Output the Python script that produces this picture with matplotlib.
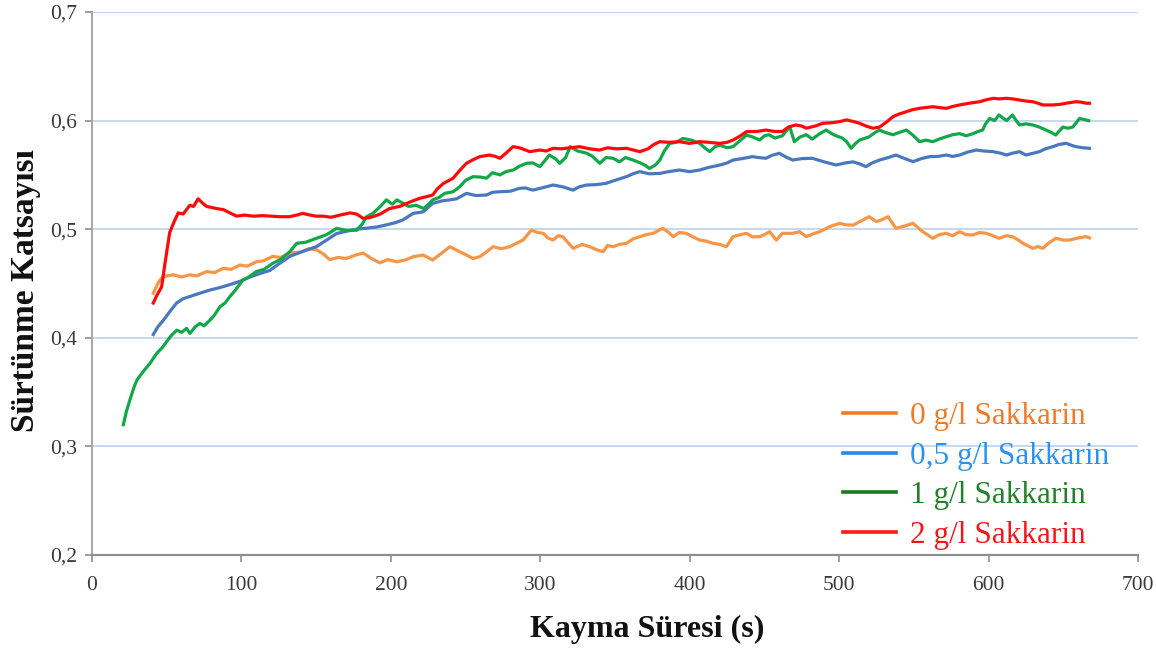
import matplotlib
matplotlib.use("Agg")
import matplotlib.pyplot as plt
from matplotlib.lines import Line2D
import numpy as np

# Sliding time (s) and friction coefficient readings for each saccharin level
t_0 = [41, 44, 46.6, 50, 54.4, 60, 65.5, 70, 76.7, 82, 87.8, 93, 99, 104, 110, 115, 121, 126,
       132.4, 140, 145, 150.3, 155, 159, 165, 170, 176, 181.5, 187, 192.6, 198, 204, 210.5,
       215, 221.6, 228, 234, 239.5, 245, 250.6, 255, 259.5, 264, 268.4, 274, 279.6, 284,
       288.5, 294, 298, 302, 305, 308.6, 312, 315, 319, 322, 328, 333, 338, 342, 345, 348.7,
       353, 357.7, 362, 366.6, 371, 375.4, 382, 386, 389, 393, 397.7, 402, 406.7, 411, 415.6,
       420, 424.5, 429, 434, 438, 442, 446.8, 450, 453.5, 458, 462, 469, 473.6, 478, 483, 487,
       493.6, 500.3, 505, 509.4, 516, 520, 525, 529, 532.8, 538, 544, 549.4, 556, 562.7, 567,
       571.7, 576, 580.6, 585, 589.5, 594, 598.4, 603, 607, 612, 616, 620, 623, 629.6, 633,
       636.3, 640, 645, 650, 654, 660, 665.3, 667.5]
mu_0 = [0.441, 0.450, 0.455, 0.457, 0.458, 0.456, 0.458, 0.457, 0.461, 0.460, 0.464, 0.463,
        0.467, 0.466, 0.470, 0.471, 0.475, 0.474, 0.478, 0.479, 0.482, 0.481, 0.477, 0.472,
        0.474, 0.473, 0.476, 0.478, 0.473, 0.469, 0.472, 0.470, 0.472, 0.4747, 0.4762, 0.4716,
        0.478, 0.4839, 0.480, 0.4762, 0.473, 0.4747, 0.479, 0.4839, 0.482, 0.4839, 0.487,
        0.490, 0.4992, 0.497, 0.4962, 0.492, 0.490, 0.494, 0.4931, 0.487, 0.4824, 0.486,
        0.4839, 0.481, 0.4793, 0.485, 0.4839, 0.486, 0.487, 0.491, 0.4931, 0.495, 0.4962,
        0.5008, 0.497, 0.4931, 0.497, 0.4962, 0.493, 0.490, 0.489, 0.487, 0.486, 0.4839,
        0.4931, 0.495, 0.4962, 0.493, 0.4931, 0.495, 0.4977, 0.490, 0.4962, 0.4962, 0.4977,
        0.4931, 0.496, 0.4977, 0.5023, 0.5054, 0.504, 0.5038, 0.5085, 0.5115, 0.507, 0.509,
        0.5115, 0.5008, 0.503, 0.5054, 0.4977, 0.4916, 0.495, 0.4962, 0.494, 0.4977, 0.495,
        0.4947, 0.497, 0.4962, 0.494, 0.4916, 0.494, 0.4931, 0.490, 0.487, 0.4824, 0.484,
        0.4824, 0.487, 0.4916, 0.490, 0.490, 0.492, 0.4931, 0.492]

t_05 = [41, 44, 47.7, 52, 56.6, 61, 65.5, 72, 79, 85, 92.3, 99, 105.7, 112, 119, 125, 132.4,
        140, 150.3, 157, 163.7, 170, 177, 184, 190.4, 197, 203, 208, 215, 221.6, 228, 234,
        239.5, 244, 250.6, 257, 264, 268, 273, 280, 286, 290, 295, 301, 308.6, 315, 322, 326,
        331, 337, 344, 350, 357.7, 362, 366.6, 373, 380, 386, 393, 400, 406.7, 413, 420, 425,
        429, 435, 442, 446, 451, 455, 460, 465, 469, 475, 482, 490, 498, 504, 509.4, 514, 518,
        522, 527, 533, 538, 544, 549.4, 555, 560.5, 566, 571.7, 576, 580.6, 586, 591.7, 597,
        603, 608, 612, 616, 620.7, 625, 630, 634, 638, 643, 647, 652, 656, 658.5, 663, 667.5]
mu_05 = [0.403, 0.410, 0.416, 0.424, 0.432, 0.436, 0.438, 0.441, 0.444, 0.446, 0.449, 0.452,
         0.456, 0.459, 0.462, 0.468, 0.475, 0.479, 0.484, 0.490, 0.496, 0.498, 0.500, 0.501,
         0.502, 0.504, 0.506, 0.5085, 0.5146, 0.516, 0.5238, 0.526, 0.527, 0.528, 0.533, 0.531,
         0.5315, 0.534, 0.5345, 0.535, 0.5376, 0.538, 0.536, 0.538, 0.5407, 0.539, 0.536,
         0.539, 0.5407, 0.541, 0.5422, 0.545, 0.5484, 0.551, 0.553, 0.551, 0.5514, 0.553,
         0.5545, 0.553, 0.5545, 0.557, 0.559, 0.561, 0.5637, 0.565, 0.5668, 0.566, 0.5653,
         0.568, 0.5699, 0.566, 0.5637, 0.565, 0.5653, 0.562, 0.5591, 0.561, 0.562, 0.560,
         0.5576, 0.561, 0.5637, 0.566, 0.5683, 0.565, 0.5622, 0.565, 0.5668, 0.567, 0.5683,
         0.567, 0.5683, 0.571, 0.5729, 0.572, 0.5714, 0.570, 0.5683, 0.570, 0.5714, 0.5683,
         0.570, 0.5714, 0.574, 0.576, 0.578, 0.5791, 0.577, 0.576, 0.575, 0.5745]

t_1 = [21, 23, 25.4, 28, 30, 34.3, 38.8, 41, 43.3, 47, 50, 53, 56.7, 60, 63.3, 65.5, 69, 72.2,
       75, 79, 82, 85.6, 89, 92.3, 96, 101, 105, 110, 115, 121, 126, 132.4, 137, 143, 150.3,
       157, 163.7, 170, 177, 181, 183.7, 188, 193, 197, 201, 204, 208, 212, 217, 222, 226,
       228, 232, 236, 241.7, 246, 250, 255, 260, 264, 268, 273, 277, 282, 286, 290.8, 295,
       299.7, 303, 306, 310, 313, 317, 320, 325, 331, 335, 339.8, 344, 348.7, 353, 357, 362,
       367, 370, 373, 377, 380, 383, 386.6, 391, 395.5, 401, 406.7, 410, 413.4, 417, 420,
       425, 429, 434, 438, 442, 446.8, 450, 453, 457, 462, 466.9, 470, 474, 478, 482, 487,
       491.4, 495, 498, 502, 505, 508, 511, 513.7, 520, 524, 527, 531, 536, 540, 545, 549,
       553.8, 558, 562.7, 567, 571.7, 576, 580.6, 585, 589.5, 593, 596, 598, 600.7, 604,
       607, 610, 612, 616, 618, 620.7, 625, 629.6, 634, 638.5, 642, 645, 647, 649.7, 653,
       656.3, 660.9, 664, 667]
mu_1 = [0.320, 0.332, 0.343, 0.354, 0.361, 0.369, 0.3765, 0.381, 0.3857, 0.391, 0.3965, 0.402,
        0.407, 0.405, 0.4087, 0.404, 0.410, 0.4133, 0.411, 0.4164, 0.421, 0.4286, 0.432,
        0.438, 0.444, 0.4532, 0.456, 0.461, 0.463, 0.4686, 0.472, 0.4793, 0.487, 0.488,
        0.4916, 0.495, 0.5008, 0.499, 0.499, 0.505, 0.5115, 0.5146, 0.521, 0.527, 0.523,
        0.527, 0.524, 0.521, 0.522, 0.519, 0.524, 0.527, 0.529, 0.533, 0.5345, 0.539, 0.545,
        0.5484, 0.548, 0.547, 0.552, 0.550, 0.553, 0.5545, 0.558, 0.5607, 0.561, 0.5576,
        0.563, 0.5683, 0.565, 0.5607, 0.566, 0.576, 0.572, 0.570, 0.567, 0.5607, 0.566,
        0.5653, 0.562, 0.566, 0.5637, 0.561, 0.559, 0.556, 0.559, 0.5637, 0.572, 0.579,
        0.580, 0.5836, 0.582, 0.579, 0.575, 0.5714, 0.576, 0.5775, 0.575, 0.576, 0.582,
        0.5867, 0.585, 0.5821, 0.586, 0.587, 0.584, 0.586, 0.5944, 0.5806, 0.585, 0.587,
        0.583, 0.588, 0.5913, 0.588, 0.586, 0.584, 0.5806, 0.5745, 0.579, 0.5821, 0.585,
        0.589, 0.5913, 0.589, 0.587, 0.589, 0.5913, 0.587, 0.5806, 0.582, 0.5806, 0.583,
        0.5852, 0.587, 0.588, 0.586, 0.588, 0.590, 0.5913, 0.597, 0.602, 0.600, 0.6052,
        0.602, 0.600, 0.6052, 0.601, 0.596, 0.597, 0.596, 0.594, 0.5913, 0.589, 0.5867,
        0.590, 0.594, 0.593, 0.594, 0.602, 0.601, 0.600]

t_2 = [41, 43, 46.6, 49, 52, 55, 57.7, 61, 65.5, 68, 71, 74, 76.7, 80, 83.4, 88, 92.3, 96.8,
       102, 108, 114, 120, 126, 132, 137, 141, 146, 150, 154.7, 160, 166, 172.6, 177, 181.5,
       185, 188, 193, 199, 206, 212.7, 219.4, 224, 228, 231, 235, 241.7, 246, 250.6, 255,
       259.5, 266, 270, 273, 277, 281.8, 286, 293, 299.7, 304, 308.6, 314, 320, 326.4, 333,
       339.8, 345, 351, 357.7, 362, 366.6, 372, 376, 380, 386, 393, 400, 406.7, 413, 420,
       425, 429, 434, 438, 445, 451, 457, 462, 466, 471, 475, 478, 484, 489, 495, 500, 505,
       510, 513.7, 518, 522.6, 527, 532, 536, 540, 545, 549, 553.8, 558, 562.7, 567, 571.7,
       576, 580.6, 587, 594, 598, 603, 607, 612, 616, 620.7, 625, 629.6, 633, 636.3, 643,
       648, 652, 658.5, 662, 665.3, 667.5]
mu_2 = [0.432, 0.438, 0.447, 0.470, 0.497, 0.507, 0.515, 0.514, 0.522, 0.521, 0.528, 0.524,
        0.521, 0.520, 0.519, 0.518, 0.515, 0.512, 0.513, 0.512, 0.5125, 0.512, 0.5115,
        0.5115, 0.513, 0.5146, 0.513, 0.512, 0.512, 0.511, 0.513, 0.515, 0.514, 0.510,
        0.5105, 0.5115, 0.514, 0.519, 0.521, 0.525, 0.5285, 0.530, 0.5315, 0.537, 0.542,
        0.547, 0.554, 0.5607, 0.564, 0.5668, 0.5683, 0.567, 0.5653, 0.570, 0.576, 0.575,
        0.5714, 0.5729, 0.572, 0.5745, 0.574, 0.575, 0.576, 0.574, 0.5729, 0.575, 0.574,
        0.5745, 0.573, 0.5714, 0.574, 0.578, 0.5806, 0.580, 0.5806, 0.579, 0.5806, 0.580,
        0.579, 0.580, 0.5821, 0.586, 0.5898, 0.590, 0.5913, 0.590, 0.590, 0.594, 0.596,
        0.595, 0.593, 0.595, 0.5975, 0.598, 0.599, 0.6006, 0.599, 0.5975, 0.595, 0.593,
        0.594, 0.599, 0.6036, 0.606, 0.6082, 0.610, 0.6113, 0.612, 0.6128, 0.612, 0.6113,
        0.613, 0.6144, 0.616, 0.6174, 0.619, 0.6205, 0.620, 0.6205, 0.620, 0.619, 0.618,
        0.6174, 0.616, 0.6144, 0.6144, 0.615, 0.616, 0.6174, 0.617, 0.616, 0.616]

series_labels = ["0 g/l Sakkarin", "0,5 g/l Sakkarin", "1 g/l Sakkarin", "2 g/l Sakkarin"]
x_ticks = [0, 100, 200, 300, 400, 500, 600, 700]
y_ticks = [0.2, 0.3, 0.4, 0.5, 0.6, 0.7]
y_tick_labels = ["0,2", "0,3", "0,4", "0,5", "0,6", "0,7"]

line_colors = ["#F79646", "#4A78BF", "#12A84A", "#FF0A0A"]
legend_line_colors = ["#F57A22", "#1E8CF5", "#1E7A1E", "#FF1A1A"]
legend_text_colors = ["#F07A28", "#2A93EE", "#23802A", "#F5161C"]

serif = ["Liberation Serif", "DejaVu Serif"]

fig = plt.figure(figsize=(11.56, 6.48), dpi=100)
ax = fig.add_axes([92 / 1156, 1 - 555 / 648, (1138 - 92) / 1156, (555 - 12) / 648])

for t, mu, c in zip([t_0, t_05, t_1, t_2], [mu_0, mu_05, mu_1, mu_2], line_colors):
    ax.plot(t, mu, color=c, lw=2.3, solid_joinstyle="round", zorder=3)

ax.set_xlim(0, 700)
ax.set_ylim(0.2, 0.7)
ax.set_xticks(x_ticks)
ax.set_yticks(y_ticks)
ax.set_yticklabels(y_tick_labels)

for y in y_ticks[1:]:
    ax.axhline(y, color="#C9D7EF", lw=1.4, zorder=1)

for s in ["top", "right"]:
    ax.spines[s].set_visible(False)
ax.spines["left"].set_color("#A6A6A6")
ax.spines["left"].set_linewidth(1.4)
ax.spines["bottom"].set_color("#8E8E8E")
ax.spines["bottom"].set_linewidth(1.6)

ax.tick_params(axis="both", colors="#8E8E8E", length=5, width=1.2, direction="out",
               labelcolor="#3A3A3A", labelsize=15.5)
ax.tick_params(axis="y", pad=6)
ax.tick_params(axis="x", pad=10)
for lab in ax.get_xticklabels() + ax.get_yticklabels():
    lab.set_fontfamily(serif)

ax.set_xlabel("Kayma Süresi (s)", fontsize=23, fontweight="bold", family=serif,
              color="#111111")
ax.xaxis.set_label_coords((647 - 92) / (1138 - 92), -(629 - 555) / (555 - 12))
ax.xaxis.label.set_va("center")
ax.set_ylabel("Sürtünme Katsayısı", fontsize=24, fontweight="bold", family=serif,
              color="#111111")
ax.yaxis.set_label_coords(-(92 - 26) / (1138 - 92), (555 - 291) / (555 - 12))
ax.yaxis.label.set_va("center")

handles = [Line2D([], [], color=c, lw=2.6) for c in legend_line_colors]
leg = fig.legend(handles, series_labels, loc="upper left",
                 bbox_to_anchor=(843 / 1156, 1 - 402 / 648),
                 frameon=False, prop={"family": serif, "size": 22.5},
                 handlelength=1.7, handletextpad=0.45, labelspacing=0.34,
                 borderpad=0, borderaxespad=0, labelcolor=legend_text_colors)

fig.savefig("out.png", dpi=100, facecolor="white")
